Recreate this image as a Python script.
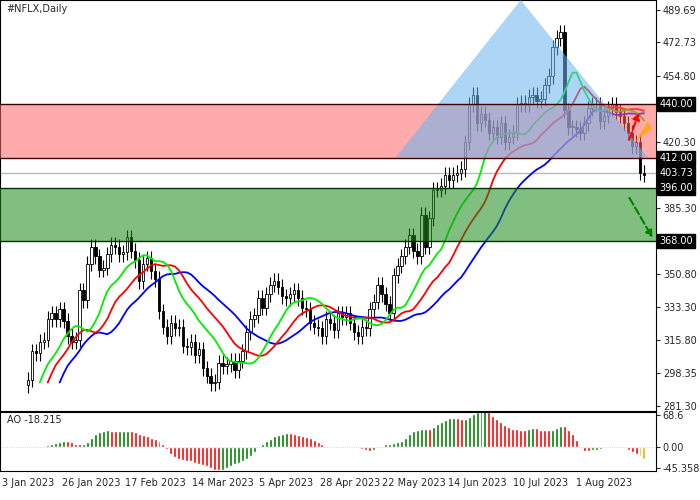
import numpy as np, pandas as pd, matplotlib
matplotlib.use("Agg")
import matplotlib.pyplot as plt, seaborn as sns
from matplotlib.patches import Polygon

closes = [295,310,309,315,316,327,330,327,332,326,318,315,316,342,337,356,365,360,353,354,
 361,366,365,361,362,370,363,358,347,356,359,352,348,331,323,318,325,322,323,
 313,312,315,308,311,301,297,293,294,304,302,303,305,300,305,310,320,327,329,338,333,340,345,
 347,344,339,338,340,342,338,333,332,325,323,322,318,327,325,321,330,328,330,
 325,320,318,323,322,332,336,345,340,335,330,350,355,360,365,371,363,360,382,365,380,395,
 395,397,403,400,403,404,406,420,440,445,430,435,432,425,428,423,430,420,423,425,440,
 441,440,444,445,442,443,450,455,470,475,478,437,428,428,427,425,430,438,440,
 440,431,434,438,440,436,434,430,425,418,420,404,403]
tick_pos = [0,16,32,49,65,81,97,113,129,145]
tick_labels = ["3 Jan 2023","26 Jan 2023","17 Feb 2023","14 Mar 2023","5 Apr 2023",
 "28 Apr 2023","22 May 2023","14 Jun 2023","10 Jul 2023","1 Aug 2023"]
levels = [440.0, 412.0, 396.0, 368.0]
last_price = 403.73
yticks = [489.69,472.73,454.80,420.30,385.30,350.80,333.30,315.80,298.35,281.30]
ao_ticks = [68.6, 0.0, -45.358]

sns.set_style("white")
c = np.array(closes, float)
o = np.r_[c[0]-3, c[:-1]]
wick = 4.0
h = np.maximum(o, c) + wick
l = np.minimum(o, c) - wick
n = len(c)
x = np.arange(n)
med = pd.Series((h + l) / 2)
df = pd.DataFrame({"x": x, "c": c})
df["green"] = med.ewm(alpha=1/5).mean().shift(3)
df["red"] = med.ewm(alpha=1/8).mean().shift(5)
df["blue"] = med.ewm(alpha=1/13).mean().shift(8)
ao = (med.rolling(5, min_periods=1).mean() - med.rolling(34, min_periods=1).mean()) * 1.3

fig = plt.figure(figsize=(7, 5), dpi=100)
ax = fig.add_axes([0.0, 0.178, 0.937, 0.822])
ax2 = fig.add_axes([0.0, 0.058, 0.937, 0.118], sharex=ax)
for a in (ax, ax2):
    a.yaxis.tick_right()
    a.tick_params(axis="y", labelsize=7, length=3, pad=2)
    for s in a.spines.values():
        s.set_color("black"); s.set_linewidth(0.8)

for i in range(n):
    ax.vlines(i, l[i], h[i], color="black", lw=0.8, zorder=3)
    up = c[i] >= o[i]
    ax.bar(i, max(abs(c[i]-o[i]), 0.4), bottom=min(o[i], c[i]), width=0.6,
           facecolor="white" if up else "black", edgecolor="black", lw=0.6, zorder=4)
sns.lineplot(data=df, x="x", y="blue", color="#0000ff", lw=1.3, ax=ax, zorder=5)
sns.lineplot(data=df, x="x", y="red", color="#ff0000", lw=1.3, ax=ax, zorder=5)
sns.lineplot(data=df, x="x", y="green", color="#00ee00", lw=1.3, ax=ax, zorder=5)

xmin, xmax = -7, 158
ax.set_xlim(xmin, xmax)
ax.set_ylim(278.5, 495)
ax.axhspan(412, 440, color="#ff6666", alpha=0.55, zorder=6, lw=0)
ax.axhspan(368, 396, color="#1a8c1a", alpha=0.55, zorder=6, lw=0)
ax.add_patch(Polygon([(92.5, 412), (124, 495), (156, 412)], closed=True,
                     facecolor="#6ab4f0", alpha=0.55, zorder=6, lw=0))
for lv in levels:
    ax.axhline(lv, color="#400000" if lv >= 412 else "#003300", lw=1, zorder=7)
ax.axhline(last_price, color="#bbbbbb", lw=1, zorder=2)
ax.annotate("", xy=(154, 437), xytext=(151, 420),
            arrowprops=dict(arrowstyle="-|>", color="red", ls="--", lw=1.5), zorder=8)
ax.annotate("", xy=(157.5, 368.5), xytext=(151, 392),
            arrowprops=dict(arrowstyle="-|>", color="green", ls="--", lw=1.5), zorder=8)
ax.add_patch(Polygon([(153, 421), (156, 431), (157, 427)], closed=True,
                     facecolor="orange", alpha=0.8, zorder=8, lw=0))

ax.set_yticks(yticks)
ax.set_yticklabels([f"{v:.2f}" for v in yticks])
for lv in levels + [last_price]:
    ax.text(1.005, lv, f"{lv:.2f}", transform=ax.get_yaxis_transform(), fontsize=7,
            color="white", va="center", ha="left", zorder=10, clip_on=False,
            bbox=dict(boxstyle="square,pad=0.2", fc="black", ec="black"))
ax.text(0.01, 0.99, "#NFLX,Daily", transform=ax.transAxes, fontsize=7, va="top")
ax.set_xlabel(""); ax.set_ylabel("")
plt.setp(ax.get_xticklabels(), visible=False)

ao_col = ["green" if i == 0 or ao[i] >= ao[i-1] else "red" for i in range(n)]
ax2.bar(x, ao, width=0.75, color=ao_col)
ax2.bar(x[-2:], ao[-2:], width=0.75, color="orange")
ax2.set_ylim(-52, 76)
ax2.set_yticks(ao_ticks)
ax2.set_yticklabels(["68.6", "0.00", "-45.358"])
ax2.axhline(0, color="#cccccc", lw=0.6, ls=":")
ax2.text(0.01, 0.95, "AO -18.215", transform=ax2.transAxes, fontsize=7, va="top")
ax2.set_xticks(tick_pos)
ax2.set_xticklabels(tick_labels, fontsize=7)
ax2.tick_params(axis="x", length=3, pad=2)
ax2.set_xlim(xmin, xmax)
fig.savefig("out.png", dpi=100)
